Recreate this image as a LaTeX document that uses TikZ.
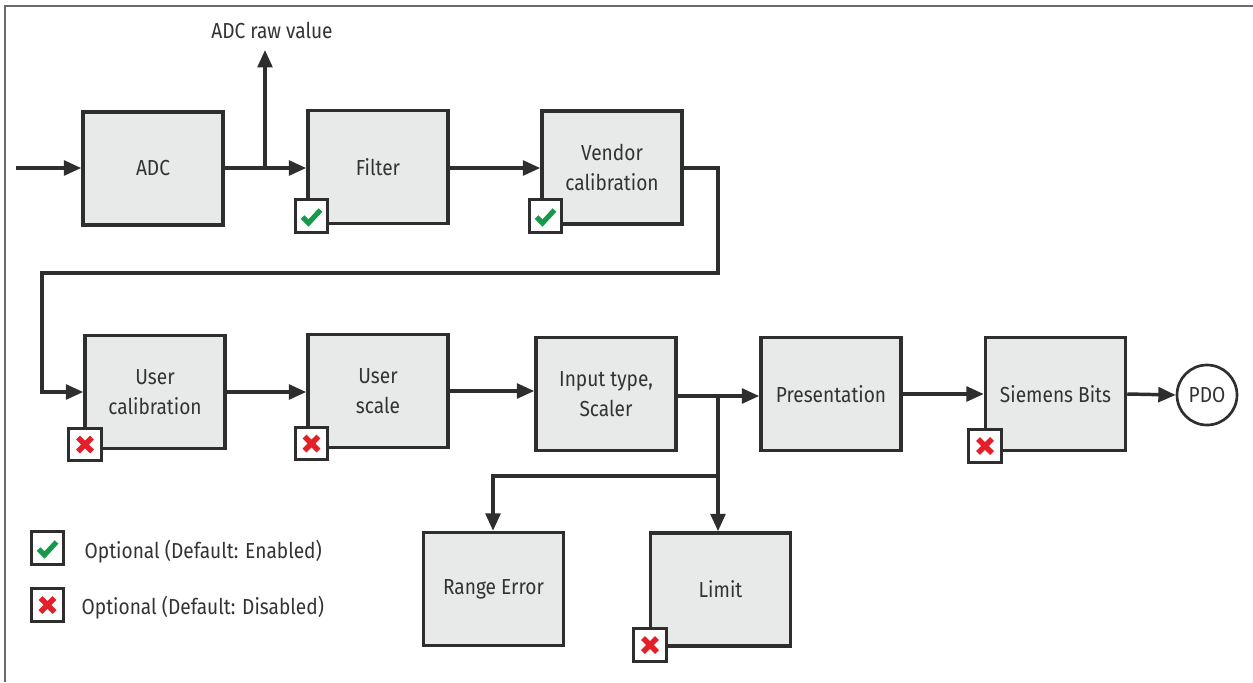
\documentclass[tikz,border=0pt]{standalone}
\usepackage{fontspec}
\setmainfont[FakeStretch=0.88]{Fira Sans}
\usetikzlibrary{arrows.meta}
\definecolor{boxfill}{HTML}{E8E9E9}
\definecolor{edge}{HTML}{2E2E2E}
\definecolor{txt}{HTML}{333333}
\definecolor{okgreen}{HTML}{149A48}
\definecolor{nored}{HTML}{E3202A}
\definecolor{framec}{HTML}{6A6A6A}
\begin{document}
\begin{tikzpicture}[x=0.75pt,y=-0.75pt,
  every node/.style={text=txt, font=\fontsize{16.3pt}{23pt}\selectfont},
  blk/.style={draw=edge, line width=2.6pt, fill=boxfill, minimum width=105pt,
    minimum height=84.75pt, align=center, inner sep=0pt},
  conn/.style={draw=edge, line width=2.6pt},
  arr/.style={conn, -{Triangle[length=13pt,width=11pt]}},
  badge/.style={draw=edge, line width=2.2pt, fill=white, minimum size=24.5pt, inner sep=0pt},
  okbadge/.style={badge, path picture={
    \draw[okgreen, line width=3.8pt, line join=miter]
      ([shift={(-9,1)}]path picture bounding box.center) --
      ([shift={(-3,7)}]path picture bounding box.center) --
      ([shift={(9,-6)}]path picture bounding box.center);}},
  nobadge/.style={badge, path picture={
    \draw[nored, line width=4.2pt]
      ([shift={(-7,-7)}]path picture bounding box.center) --
      ([shift={(7,7)}]path picture bounding box.center)
      ([shift={(-7,7)}]path picture bounding box.center) --
      ([shift={(7,-7)}]path picture bounding box.center);}}
]
\useasboundingbox (0,0) rectangle (1253,682);
\fill[white] (0,0) rectangle (1253,682);
\draw[framec, line width=1.5pt] (5,682) -- (5,6) -- (1253,6);

% blocks
\node[blk] (adc)    at (153,168.5)  {ADC};
\node[blk] (filter) at (378,167)    {Filter};
\node[blk] (vendor) at (612,167.5)  {Vendor\\calibration};
\node[blk] (ucal)   at (155,392)    {User\\calibration};
\node[blk] (uscale) at (378,391)    {User\\scale};
\node[blk] (input)  at (606,394)    {Input type,\\Scaler};
\node[blk] (pres)   at (831,394)    {Presentation};
\node[blk] (siem)   at (1055.5,394) {Siemens Bits};
\node[blk] (range)  at (493.5,589)  {Range Error};
\node[blk] (limit)  at (720.5,589.5){Limit};
\node[draw=edge, line width=2pt, circle, minimum size=45pt, inner sep=0pt, fill=white] (pdo) at (1207,395) {PDO};

\node (raw) at (272,30) {ADC raw value};

% badges
\node[okbadge] (bf) at (311.5,216) {};
\node[okbadge] (bv) at (545.5,216) {};
\node[nobadge] (bu) at (85,444.5) {};
\node[nobadge] (bs) at (311.5,443.5) {};
\node[nobadge] (bb) at (985,446) {};
\node[nobadge] (bl) at (650,645) {};

% legend
\node[okbadge] (lg1) at (47.5,548) {};
\node[nobadge] (lg2) at (47.5,605) {};
\node[anchor=west] (lt1) at (80,552) {Optional (Default: Enabled)};
\node[anchor=west] (lt2) at (77,608) {Optional (Default: Disabled)};

% connectors
\coordinate (in) at (16,168);
\coordinate (j1) at (265,168);
\coordinate (rawtip) at (265,50);
\coordinate (c1) at (718,273);
\coordinate (c2) at (42,273);
\coordinate (j2) at (718,396);
\coordinate (j3) at (718,476);
\coordinate (c3) at (493,476);

\draw[arr] (in) -- (in -| adc.west);
\draw[arr] (adc.east |- j1) -- (j1 -| filter.west);
\draw[arr] (j1) -- (rawtip);
\draw[arr] (filter.east |- j1) -- (j1 -| vendor.west);
\draw[arr] (vendor.east |- j1) -| (c1) -- (c2) |- (ucal.west);
\draw[arr] (ucal.east) -- (ucal.east -| uscale.west);
\draw[arr] (uscale.east) -- (uscale.east -| input.west);
\draw[arr] (input.east |- j2) -- (j2 -| pres.west);
\draw[arr] (pres.east) -- (pres.east -| siem.west);
\draw[arr] (siem.east) -- (pdo.west);
\draw[arr] (j2) -- (j2 |- limit.north);
\draw[arr] (j3) -- (c3) -- (c3 |- range.north);
\end{tikzpicture}
\end{document}
